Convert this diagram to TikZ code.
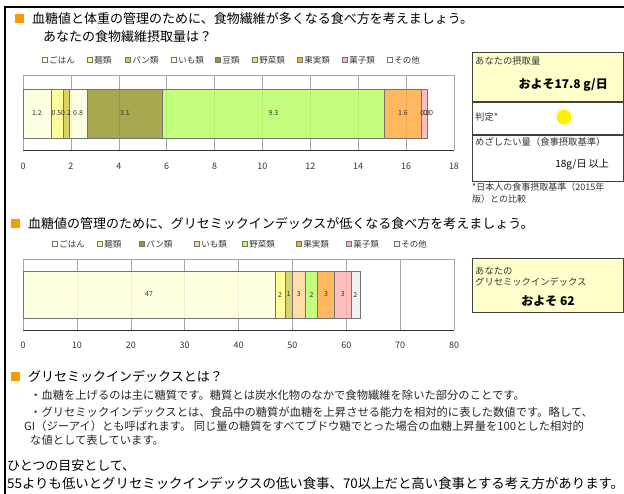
\documentclass[tikz,border=0pt]{standalone}
\usepackage{fontspec}
\setmainfont{Noto Sans CJK JP}
\usetikzlibrary{positioning}
\definecolor{gohan}{HTML}{FFFFDC}
\definecolor{men}{HTML}{FFFF88}
\definecolor{pan}{HTML}{D2CC44}
\definecolor{panlight}{HTML}{CCCC5A}
\definecolor{imo}{HTML}{FFFFDC}
\definecolor{imolight}{HTML}{FFD699}
\definecolor{mame}{HTML}{999933}
\definecolor{yasai}{HTML}{B8FF66}
\definecolor{kajitsu}{HTML}{FFAA44}
\definecolor{kashi}{HTML}{FFB3B3}
\definecolor{sonota}{HTML}{EEEEEE}
\definecolor{headsq}{HTML}{FF9900}
\definecolor{boxyellow}{HTML}{FFFFCC}

\begin{document}
\begin{tikzpicture}[x=1pt, y=-1pt, inner sep=0pt,
    head/.style={anchor=west, font=\fontsize{13}{15}\selectfont},
    body/.style={anchor=west, font=\fontsize{11.3}{13}\selectfont, text=black!85},
    headsquare/.style={fill=headsq, minimum size=9pt},
    legkey/.style={draw=black!55, fill=#1, minimum size=5pt, line width=0.4pt},
    legtext/.style={anchor=west, font=\fontsize{8.5}{10}\selectfont, text=black!80},
    seg/.style={draw=black!55, fill=#1, fill opacity=0.85, line width=0.4pt},
    barlabel/.style={font=\fontsize{7}{8}\selectfont, text=black!80},
    ticklabel/.style={font=\fontsize{9}{10}\selectfont, text=black!80},
    gridline/.style={draw=black!35, line width=0.5pt},
    boxtext/.style={anchor=west, font=\fontsize{9.3}{11}\selectfont, text=black!80},
    boxbig/.style={font=\bfseries\fontsize{12}{14}\selectfont},
    infobox/.style={draw=black!75, line width=0.8pt, anchor=north west}]
    \useasboundingbox (0,0) rectangle (624,494);
    \draw[line width=2pt] (624,7) -- (5,7) -- (5,494);

    % fibre
    \node[headsquare] (sq1) at (19.5,19) {};
    \node[head] (head1) at (32,19) {血糖値と体重の管理のために、食物繊維が多くなる食べ方を考えましょう。};
    \node[head] (head1b) at (43,37) {あなたの食物繊維摂取量は？};
    \foreach \x/\c/\t [count=\i] in {45/gohan/ごはん, 90/men/麺類, 128/pan/パン類, 174/imo/いも類,
        218/mame/豆類, 255/yasai/野菜類, 300/kajitsu/果実類, 345/kashi/菓子類, 390/white/その他}
    {
        \node[legkey=\c] (ka\i) at (\x,60) {};
        \node[legtext, right=1.5pt of ka\i] (la\i) {\t};
    }
    \begin{scope}[shift={(23,0)}, x=23.944pt]
        \foreach \v in {2,4,...,16} \draw[gridline] (\v,75) -- (\v,150);
        \draw[gridline] (0,150) |- (18,75) -- (18,150);
        \path[seg=gohan] (0,89) rectangle (1.17,138);
        \path[seg=men] (1.17,89) rectangle (1.68,138);
        \path[seg=pan] (1.68,89) rectangle (1.92,138);
        \path[seg=imo] (1.92,89) rectangle (2.69,138);
        \path[seg=mame] (2.69,89) rectangle (5.83,138);
        \path[seg=yasai] (5.83,89) rectangle (15.09,138);
        \path[seg=kajitsu] (15.09,89) rectangle (16.65,138);
        \path[seg=kashi] (16.65,89) rectangle (16.9,138);
        \draw[black!80, line width=0.8pt] (0,150) -- (18,150);
        \node[barlabel] (f1) at (0.58,113.5) {1.2};
        \node[barlabel] (f2) at (1.40,113.5) {0.5};
        \node[barlabel] (f3) at (1.80,113.5) {0.2};
        \node[barlabel] (f4) at (2.30,113.5) {0.8};
        \node[barlabel] (f5) at (4.26,113.5) {3.1};
        \node[barlabel] (f6) at (10.46,113.5) {9.3};
        \node[barlabel] (f7) at (15.87,113.5) {1.6};
        \node[barlabel] (f8) at (16.80,113.5) {0.2};
        \node[barlabel] (f9) at (16.92,113.5) {0.0};
        \foreach \v in {0,2,...,18} \node[ticklabel] (ft\v) at (\v,166) {\v};
    \end{scope}

    % intake box
    \node[infobox, fill=boxyellow, minimum width=151pt, minimum height=49pt] (intake) at (472,52) {};
    \node[infobox, minimum width=151pt, minimum height=32pt, below=0pt of intake] (judge) {};
    \node[infobox, minimum width=151pt, minimum height=46pt, below=0pt of judge] (target) {};
    \node[boxtext] (intaketitle) at (475,61) {あなたの摂取量};
    \node[boxbig, anchor=east] (intakeval) at (608,85) {およそ17.8 g/日};
    \node[boxtext] (judgetitle) at (475,117) {判定*};
    \node[circle, fill=yellow, minimum size=15pt] (mark) at (564,117) {};
    \node[boxtext] (targettitle) at (475,142) {めざしたい量（食事摂取基準）};
    \node[anchor=east, font=\fontsize{10}{12}\selectfont] (targetval) at (609,165) {18g/日 以上};
    \node[boxtext, font=\fontsize{9}{11}\selectfont] (note1) at (472,187) {*日本人の食事摂取基準（2015年};
    \node[boxtext, font=\fontsize{9}{11}\selectfont] (note2) at (472,199) {版）との比較};

    % glycemic index
    \node[headsquare] (sq2) at (15.5,224) {};
    \node[head] (head2) at (28,224) {血糖値の管理のために、グリセミックインデックスが低くなる食べ方を考えましょう。};
    \foreach \x/\c/\t [count=\i] in {55/gohan/ごはん, 100/men/麺類, 142/mame/パン類, 197/imolight/いも類,
        245/yasai/野菜類, 299/kajitsu/果実類, 349/kashi/菓子類, 397/sonota/その他}
    {
        \node[legkey=\c] (kb\i) at (\x,244) {};
        \node[legtext, right=1.5pt of kb\i] (lb\i) {\t};
    }
    \begin{scope}[shift={(23,0)}, x=5.3875pt]
        \foreach \v in {10,20,...,70} \draw[gridline] (\v,259) -- (\v,330);
        \draw[gridline] (0,330) |- (80,259) -- (80,330);
        \path[seg=gohan] (0,271) rectangle (46.8,318);
        \path[seg=men] (46.8,271) rectangle (48.6,318);
        \path[seg=panlight] (48.6,271) rectangle (50.0,318);
        \path[seg=imolight] (50.0,271) rectangle (52.4,318);
        \path[seg=yasai] (52.4,271) rectangle (54.7,318);
        \path[seg=kajitsu] (54.7,271) rectangle (57.8,318);
        \path[seg=kashi] (57.8,271) rectangle (60.9,318);
        \path[seg=sonota] (60.9,271) rectangle (62.5,318);
        \draw[black!80, line width=0.8pt] (0,330) -- (80,330);
        \node[barlabel] (g1) at (23.4,294.5) {47};
        \node[barlabel] (g2) at (47.7,294.5) {2};
        \node[barlabel] (g3) at (49.3,294.5) {1};
        \node[barlabel] (g4) at (51.2,294.5) {3};
        \node[barlabel] (g5) at (53.55,294.5) {2};
        \node[barlabel] (g6) at (56.25,294.5) {3};
        \node[barlabel] (g7) at (59.35,294.5) {3};
        \node[barlabel] (g8) at (61.7,294.5) {2};
        \foreach \v in {0,10,...,80} \node[ticklabel] (gt\v) at (\v,345) {\v};
    \end{scope}
    \node[infobox, fill=boxyellow, minimum width=151pt, minimum height=54pt] (gibox) at (472,258) {};
    \node[boxtext] (gititle1) at (475,271) {あなたの};
    \node[boxtext] (gititle2) at (475,282) {グリセミックインデックス};
    \node[boxbig] (gival) at (548,301) {およそ 62};

    % explanation
    \node[headsquare] (sq3) at (15.5,376) {};
    \node[head] (head3) at (28,376) {グリセミックインデックスとは？};
    \node[body] (line1) at (30,395) {・血糖を上げるのは主に糖質です。糖質とは炭水化物のなかで食物繊維を除いた部分のことです。};
    \node[body] (line2) at (30,412) {・グリセミックインデックスとは、食品中の糖質が血糖を上昇させる能力を相対的に表した数値です。略して、};
    \node[body] (line3) at (24,426) {GI（ジーアイ）とも呼ばれます。 同じ量の糖質をすべてブドウ糖でとった場合の血糖上昇量を100とした相対的};
    \node[body] (line4) at (30,440) {な値として表しています。};
    \node[head] (rule1) at (7,466) {ひとつの目安として、};
    \node[head, font=\fontsize{13.4}{15}\selectfont] (rule2) at (7,483) {55よりも低いとグリセミックインデックスの低い食事、70以上だと高い食事とする考え方があります。};
\end{tikzpicture}
\end{document}
